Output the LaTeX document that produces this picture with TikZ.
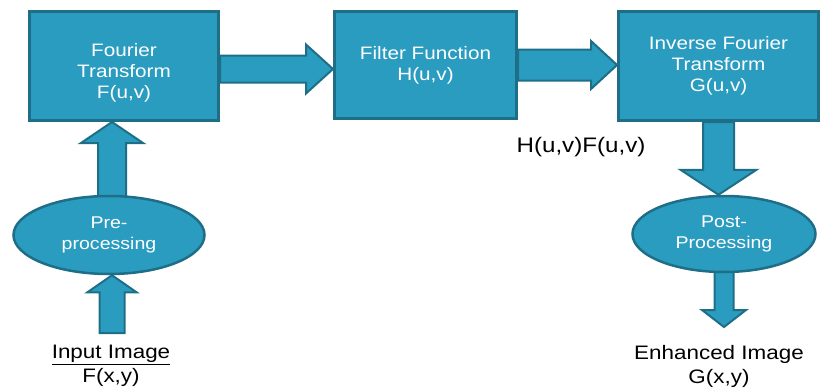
\documentclass[tikz,border=0pt]{standalone}
\usepackage{fontspec}
\setmainfont{Liberation Sans}[FakeStretch=1.15]
\usetikzlibrary{calc,shapes.geometric,backgrounds}
\definecolor{tealfill}{HTML}{2A9CC0}
\definecolor{tealline}{HTML}{1F6E88}
\tikzset{
  box/.style={draw=tealline, fill=tealfill, line width=3pt, inner sep=0pt, text=white, align=center,
    font=\fontsize{18}{21}\selectfont},
  oval/.style={ellipse, draw=tealline, fill=tealfill, line width=2.5pt, inner sep=0pt, text=white, align=center,
    font=\fontsize{17}{21}\selectfont},
  lbl/.style={text=black, align=center, font=\fontsize{19.5}{24}\selectfont},
  barr/.style={draw=tealline, fill=tealfill, line width=2pt, line join=miter},
}
\newcommand\blockarrow[5]{%
  \path ($(#2)!#5!(#1)$) coordinate (ba-n);
  \draw[barr] ($(#1)!#3!90:(#2)$) -- ($(ba-n)!#3!90:(#2)$) -- ($(ba-n)!#4!90:(#2)$) -- (#2)
    -- ($(ba-n)!#4!-90:(#2)$) -- ($(ba-n)!#3!-90:(#2)$) -- ($(#1)!#3!-90:(#2)$) -- cycle;
}
\begin{document}
\begin{tikzpicture}[x=1pt,y=-1pt]
\useasboundingbox (0,0) rectangle (822,388);
% nodes
\node[box, minimum width=189pt, minimum height=109pt] (ft) at (124,66) {\rule{0pt}{26pt}Fourier\\Transform\\F(u,v)};
\node[box, minimum width=182pt, minimum height=107pt] (filt) at (425.5,65) {Filter Function\\H(u,v)};
\node[box, minimum width=200pt, minimum height=109pt] (ift) at (718.5,66) {Inverse Fourier\\Transform\\G(u,v)};
\node[oval, minimum width=191pt, minimum height=78pt] (pre) at (109,235) {Pre-\\processing};
\node[oval, minimum width=183pt, minimum height=76pt] (post) at (724,234) {Post-\\Processing};
\node[lbl, font=\fontsize{21}{24}\selectfont] (hf) at (581,147) {H(u,v)F(u,v)};
\node[lbl] (inp) at (111,366) {\underline{Input Image}\\F(x,y)};
\node[lbl] (enh) at (719,366) {Enhanced Image\\G(x,y)};
% connector end points
\coordinate (inbot) at (112,333);
\coordinate (intip) at (inbot |- pre.south);
\coordinate (prestart) at ([yshift=-6pt]intip |- pre.north);
\coordinate (ftin) at (intip |- ft.south);
\coordinate (a1s) at ([yshift=-3pt]ft.east);
\coordinate (a1e) at (filt.west |- a1s);
\coordinate (a2s) at (filt.east);
\coordinate (a2e) at (ift.west |- a2s);
\coordinate (a3e) at (ift.south |- post.north);
\coordinate (postout) at ([yshift=6pt]post.south);
\coordinate (outtip) at (postout |- 0,327);
\begin{scope}[on background layer]
  \blockarrow{inbot}{intip}{12.5pt}{24.5pt}{17pt}
  \blockarrow{prestart}{ftin}{14pt}{31pt}{21pt}
  \blockarrow{a1s}{a1e}{13.5pt}{24.5pt}{27pt}
  \blockarrow{a2s}{a2e}{15.5pt}{24pt}{26pt}
  \blockarrow{ift.south}{a3e}{15.5pt}{38pt}{25pt}
  \blockarrow{postout}{outtip}{9.5pt}{22pt}{17pt}
\end{scope}
\end{tikzpicture}
\end{document}
